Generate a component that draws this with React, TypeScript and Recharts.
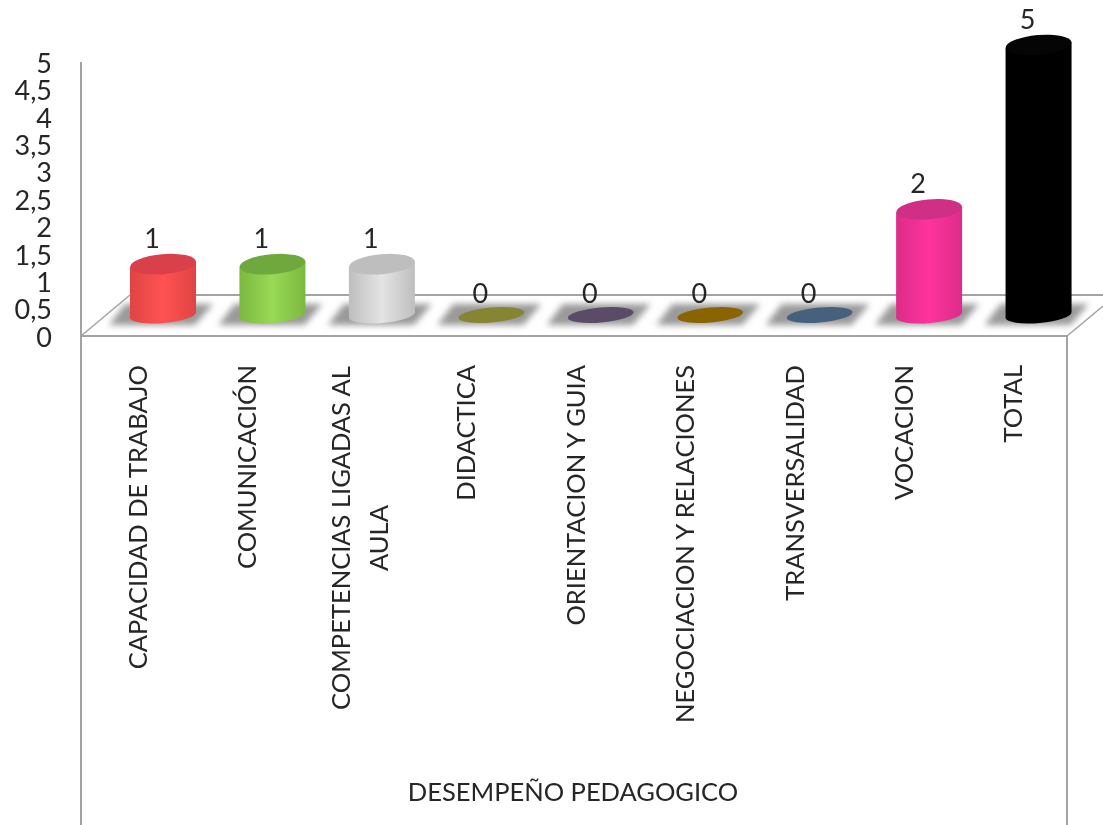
import React from 'react';
import { BarChart, Bar, XAxis, YAxis, LabelList } from 'recharts';

const categories = [
  'CAPACIDAD DE TRABAJO',
  'COMUNICACIÓN',
  'COMPETENCIAS LIGADAS AL AULA',
  'DIDACTICA',
  'ORIENTACION Y GUIA',
  'NEGOCIACION Y RELACIONES',
  'TRANSVERSALIDAD',
  'VOCACION',
  'TOTAL',
];
const values = [1, 1, 1, 0, 0, 0, 0, 2, 5];
const bodyColors = ['#FF5252', '#98D955', '#E4E4E4', '#858533', '#5A4C66', '#8A6400', '#47607E', '#FF339C', '#000000'];
const edgeColors = ['#E04444', '#7CB840', '#BEBEBE', '#858533', '#5A4C66', '#8A6400', '#47607E', '#DC2C8A', '#000000'];
const topColors = ['#D9404A', '#6FA83C', '#BEBEBE', '#858533', '#5A4C66', '#8A6400', '#47607E', '#CF2F85', '#050505'];
const yTicks = [0, 0.5, 1, 1.5, 2, 2.5, 3, 3.5, 4, 4.5, 5];
const groupLabel = 'DESEMPEÑO PEDAGOGICO';

const data = categories.map((name, i) => ({
  name,
  value: values[i],
  body: bodyColors[i],
  edge: edgeColors[i],
  top: topColors[i],
}));

const FONT = 'Lato, "Open Sans", sans-serif';
const TEXT = '#262626';
const LINE = '#A3A3A3';

const Cylinder = (props: any) => {
  const { x, y, width, height, payload, index } = props;
  const cx = x + width / 2;
  const rx = width / 2;
  const base = y + height;
  const by = base - 4;
  const tilt = 3;
  const id = `cyl-${index}`;
  return (
    <g>
      <defs>
        <linearGradient id={id} x1="0" y1="0" x2="1" y2="0">
          <stop offset="0" stopColor={payload.edge} />
          <stop offset="0.5" stopColor={payload.body} />
          <stop offset="1" stopColor={payload.edge} />
        </linearGradient>
        <filter id={`${id}-b`} x="-20%" y="-50%" width="140%" height="200%">
          <feGaussianBlur stdDeviation="3" />
        </filter>
      </defs>
      <polygon
        points={`${cx - 38},${base - 15} ${cx + 50},${base - 15} ${cx + 32},${base + 6} ${cx - 54},${base + 6}`}
        fill="#9A9A9A"
        filter={`url(#${id}-b)`}
      />
      {height > 0 ? (
        <>
          <path
            d={`M${cx - rx},${y + tilt} L${cx - rx},${by + tilt} A${rx},8 -5 0 0 ${cx + rx},${by - tilt} L${cx + rx},${y - tilt} Z`}
            fill={`url(#${id})`}
          />
          <ellipse cx={cx} cy={y} rx={rx} ry={10} fill={payload.top} transform={`rotate(-5 ${cx} ${y})`} />
        </>
      ) : (
        <ellipse cx={cx} cy={by} rx={rx} ry={7.5} fill={payload.top} transform={`rotate(-5 ${cx} ${by})`} />
      )}
    </g>
  );
};

const YTick = (props: any) => {
  const { y, payload } = props;
  return (
    <text x={52} y={y + 18} dy="0.36em" textAnchor="end" fontFamily={FONT} fontSize={27} fill={TEXT}>
      {String(payload.value).replace('.', ',')}
    </text>
  );
};

const XTick = (props: any) => {
  const { x, payload } = props;
  const name: string = payload.value;
  const cx = x - 25;
  const common = { fontFamily: FONT, fontSize: 25.5, fill: TEXT };
  if (name === 'COMPETENCIAS LIGADAS AL AULA') {
    return (
      <g>
        <text {...common} textAnchor="middle" transform={`translate(${x - 41},538) rotate(-90)`} dy="0.36em">COMPETENCIAS LIGADAS AL</text>
        <text {...common} textAnchor="middle" transform={`translate(${x - 3},538) rotate(-90)`} dy="0.36em">AULA</text>
      </g>
    );
  }
  return (
    <text {...common} textAnchor="end" transform={`translate(${cx},365) rotate(-90)`} dy="0.36em">
      {name}
    </text>
  );
};

const ValueLabel = (props: any) => {
  const { x, y, width, value } = props;
  return (
    <text x={x + width / 2 - 11} y={y - 26} dy="0.36em" textAnchor="middle" fontFamily={FONT} fontSize={27} fill={TEXT}>
      {value}
    </text>
  );
};

export default function App() {
  return (
    <div style={{ position: 'absolute', left: 0, top: 0, width: 1103, height: 825, overflow: 'hidden', background: '#fff', filter: 'blur(0.6px)' }}>
      <BarChart
        width={1103}
        height={825}
        data={data}
        margin={{ top: 45, right: 10, bottom: 0, left: 0 }}
        barCategoryGap={0}
      >
        <g>
          <line x1={81} y1={62} x2={81} y2={825} stroke={LINE} strokeWidth={2} />
          <line x1={1067} y1={336} x2={1067} y2={825} stroke={LINE} strokeWidth={2} />
          <line x1={81} y1={336} x2={1067} y2={336} stroke={LINE} strokeWidth={2} />
          <line x1={81} y1={336} x2={130} y2={295} stroke={LINE} strokeWidth={1.5} />
          <line x1={1067} y1={336} x2={1103} y2={306} stroke={LINE} strokeWidth={1.5} />
          <line x1={130} y1={295} x2={1103} y2={295} stroke={LINE} strokeWidth={2} />
          <text x={573} y={792} dy="0.36em" textAnchor="middle" fontFamily={FONT} fontSize={25.5} fill={TEXT}>
            {groupLabel}
          </text>
        </g>
        <XAxis dataKey="name" interval={0} height={506} axisLine={false} tickLine={false} tick={<XTick />} />
        <YAxis width={108} domain={[0, 5]} ticks={yTicks} interval={0} axisLine={false} tickLine={false} tick={<YTick />} />
        <Bar dataKey="value" barSize={66} isAnimationActive={false} shape={<Cylinder />}>
          <LabelList dataKey="value" content={<ValueLabel />} />
        </Bar>
      </BarChart>
    </div>
  );
}
